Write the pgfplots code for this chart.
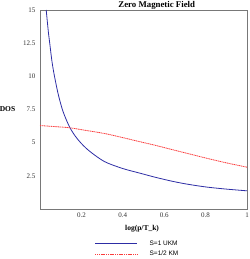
\documentclass[border=0pt]{standalone}
\usepackage{pgfplots}
\pgfplotsset{compat=1.18}
\usepackage{fontspec}
\setmainfont{Liberation Serif}
\newfontfamily\legfont{Liberation Sans}
\definecolor{mblue}{RGB}{45,45,165}
\definecolor{mred}{RGB}{250,60,60}
\definecolor{mgray}{RGB}{120,120,120}
\begin{document}
\begin{tikzpicture}[x=1pt,y=1pt]
\useasboundingbox (0,0) rectangle (249,259);
\begin{axis}[
  at={(40pt,50pt)}, anchor=south west,
  scale only axis, width=207pt, height=199pt,
  xmin=0, xmax=1, ymin=0, ymax=15,
  axis line style={mgray, line width=0.6pt},
  major tick length=0pt,
  xtick={0.2,0.4,0.6,0.8,1},
  ytick={2.5,5,7.5,10,12.5,15},
  /pgf/number format/assume math mode=true,
  tick label style={font=\fontsize{7}{8}\selectfont, text=black!80},
  yticklabel style={xshift=-1pt},
  title={\textbf{Zero Magnetic Field}},
  every axis title/.style={at={(axis description cs:0.564,1)}, anchor=base, yshift=2.4pt, font=\fontsize{8.8}{9}\selectfont, inner sep=0pt},
  xlabel={\textbf{log(p/T\_k)}},
  every axis x label/.style={at={(axis description cs:0.493,-0.1)}, anchor=center, font=\fontsize{7.5}{8}\selectfont},
  ylabel={\textbf{DOS}},
  every axis y label/.style={at={(axis description cs:-0.157,0.503)}, anchor=center, font=\fontsize{7.5}{8}\selectfont},
  legend style={at={(axis description cs:0.264,-0.148)}, anchor=north west, draw=none, fill=none,
    font=\legfont\fontsize{6.5}{7}\selectfont, row sep=0.5pt, inner sep=0pt},
  legend cell align=left,
  legend image code/.code={\draw[#1] (0pt,0pt) -- (42pt,0pt); \path (52pt,0pt);},
  clip=true,
]
\addplot[mblue, line width=0.8pt, smooth] coordinates {
(0.03,15) (0.04,13.4) (0.047,12.5) (0.058,11.1) (0.07,10) (0.088,8.65) (0.108,7.5)
(0.125,6.8) (0.145,6.12) (0.17,5.5) (0.199,4.95) (0.24,4.35) (0.312,3.57) (0.4,3.05)
(0.483,2.7) (0.56,2.38) (0.645,2.07) (0.72,1.85) (0.807,1.65) (0.9,1.5) (1,1.37)
};
\addlegendentry{S=1 UKM}
\addplot[mred, line width=0.8pt, dash pattern=on 1.2pt off 0.6pt, smooth] coordinates {
(0,6.29) (0.1,6.18) (0.145,6.12) (0.2,5.98) (0.312,5.69) (0.4,5.38) (0.483,5.07)
(0.565,4.77) (0.645,4.45) (0.73,4.12) (0.807,3.82) (0.9,3.48) (1,3.15)
};
\addlegendentry{S=1/2 KM}
\end{axis}
\end{tikzpicture}
\end{document}
